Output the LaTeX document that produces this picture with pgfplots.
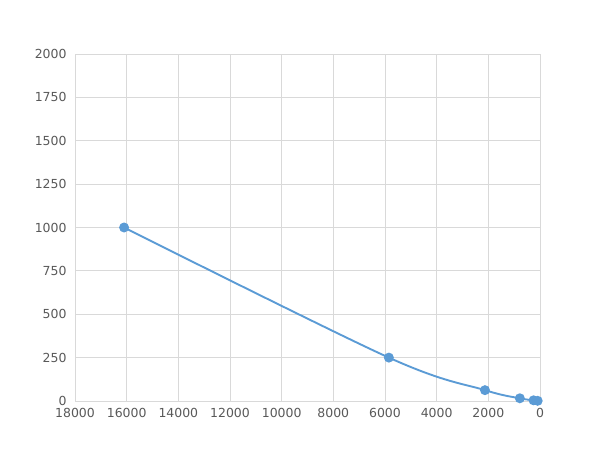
\documentclass[border=0pt]{standalone}
\usepackage{pgfplots}
\pgfplotsset{compat=1.18}
\usepackage{fontspec}
\setmainfont{DejaVu Sans}
\definecolor{lineblue}{HTML}{5B9BD5}
\definecolor{gridgray}{HTML}{D9D9D9}
\definecolor{textgray}{HTML}{595959}
\begin{document}
\begin{tikzpicture}[x=1bp,y=1bp]
\useasboundingbox (-75,-49) rectangle (525,401);
\begin{axis}[
    at={(0,0)}, anchor=south west,
    scale only axis,
    width=465bp, height=347bp,
    x dir=reverse,
    xmin=0, xmax=18000,
    ymin=0, ymax=2000,
    xtick={0,2000,...,18000},
    ytick={0,250,...,2000},
    scaled x ticks=false,
    xticklabel style={/pgf/number format/1000 sep={}},
    yticklabel style={/pgf/number format/1000 sep={}},
    /pgf/number format/assume math mode=true,
    tick label style={font=\fontsize{12.5}{15}\selectfont, text=textgray},
    grid=major,
    grid style={gridgray, line width=0.9pt},
    axis line style={gridgray, line width=0.9pt},
    major tick length=0pt,
    xticklabel shift=4bp,
    yticklabel shift=5bp,
]
\addplot[
    color=lineblue, line width=1.9pt, smooth, tension=0.55,
    mark=*, mark size=4pt, mark options={fill=lineblue, draw=lineblue}
] coordinates {
    (16100, 1000)
    (5850, 250)
    (2130, 62.5)
    (780, 15.6)
    (250, 3.9)
    (90, 1)
};
\end{axis}
\end{tikzpicture}
\end{document}
